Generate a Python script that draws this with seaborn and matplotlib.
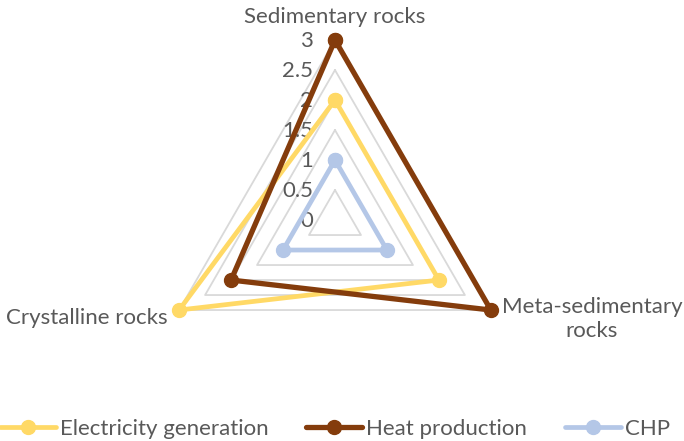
import numpy as np
import matplotlib
matplotlib.use("Agg")
import matplotlib.pyplot as plt
import seaborn as sns

categories = ["Sedimentary rocks", "Meta-sedimentary\nrocks", "Crystalline rocks"]
series_names = ["Electricity generation", "Heat production", "CHP"]
electricity = [2, 2, 3]
heat = [3, 3, 2]
chp = [1, 1, 1]
ring_values = [0.5, 1.0, 1.5, 2.0, 2.5, 3.0]
tick_values = [0, 0.5, 1, 1.5, 2, 2.5, 3]
tick_labels = ["0", "0.5", "1", "1.5", "2", "2.5", "3"]
colors = ["#FFD966", "#843C0C", "#B4C7E7"]

sns.set_theme(style="white")
plt.rcParams['font.family'] = ['Lato', 'DejaVu Sans']
text_color = "#595959"
fs = 16

fig = plt.figure(figsize=(6.84, 4.41), dpi=100)
ax = fig.add_axes([0.2266, 0.0929, 0.5263, 0.8163], projection="polar")
ax.set_theta_offset(np.pi / 2)
ax.set_theta_direction(-1)
ax.set_ylim(0, 3)
ax.grid(False)
ax.spines["polar"].set_visible(False)
ax.set_xticks([])
ax.set_yticks([])
ax.patch.set_alpha(0)

n = len(categories)
angles = np.arange(n) * 2 * np.pi / n
closed = np.append(angles, angles[0])

for rv in ring_values:
    ax.plot(closed, [rv] * (n + 1), color="#D9D9D9", lw=1.3, zorder=1, clip_on=False)

widths = [3.4, 3.8, 3.4]
for name, vals, c, w in zip(series_names, [electricity, heat, chp], colors, widths):
    v = list(vals) + [vals[0]]
    ax.plot(closed, v, color=c, lw=w, marker="o", markersize=10,
            label=name, zorder=3, clip_on=False, solid_joinstyle="miter")

for tv, tl in zip(tick_values, tick_labels):
    ax.annotate(tl, xy=(0, tv), xytext=(-22, -1), textcoords="offset pixels",
                ha="right", va="center", fontsize=fs, color=text_color, zorder=2)

label_offsets = [(0, 23), (101, -9), (-11, -8)]
label_ha = ["center", "center", "right"]
for ang, cat, off, ha in zip(angles, categories, label_offsets, label_ha):
    ax.annotate(cat, xy=(ang, 3), xytext=off, textcoords="offset pixels",
                ha=ha, va="center", fontsize=fs, color=text_color,
                multialignment="center", annotation_clip=False)

leg = fig.legend(loc="center", bbox_to_anchor=(335 / 684, 12 / 441), ncol=3,
                 frameon=False, fontsize=fs, handlelength=2.5, handletextpad=0.2,
                 columnspacing=1.7)
for t in leg.get_texts():
    t.set_color(text_color)

fig.savefig("out.png", dpi=100)
